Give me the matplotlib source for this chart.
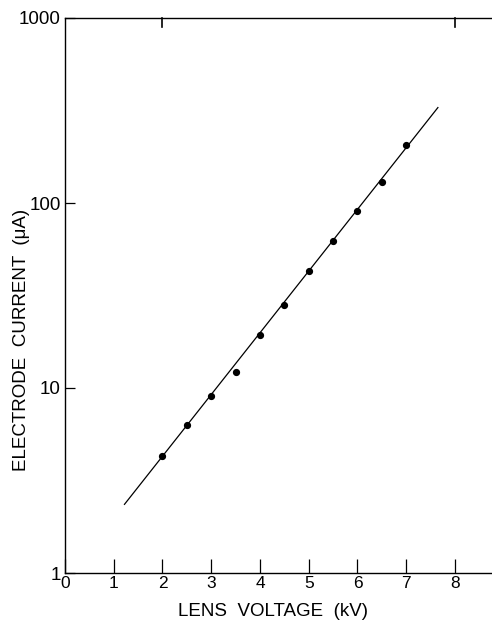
import matplotlib
matplotlib.use("Agg")
import matplotlib.pyplot as plt

# measured points (kV, uA)
voltage = [2.0, 2.5, 3.0, 3.5, 4.0, 4.5, 5.0, 5.5, 6.0, 6.5, 7.0]
current = [4.3, 6.3, 9.1, 12.2, 19.3, 28.1, 42.9, 62.3, 90.5, 130, 206]

# drawn straight-line fit (end points)
fit_voltage = [1.22, 7.65]
fit_current = [2.35, 328]

x_ticks = [0, 1, 2, 3, 4, 5, 6, 7, 8]
y_ticks = [1, 10, 100, 1000]
y_labels = ["1", "10", "100", "1000"]

plt.rcParams['font.family'] = ['Liberation Sans', 'DejaVu Sans']

fig = plt.figure(figsize=(4.92, 6.2), dpi=100)
ax = fig.add_axes((65 / 492, 47 / 620, 1 - 65 / 492, 555 / 620))

ax.plot(fit_voltage, fit_current, color='black', lw=0.9)
ax.plot(voltage, current, 'o', color='black', ms=4.2)

ax.set_yscale('log')
ax.set_xlim(0, 8.76)
ax.set_ylim(1, 1000)

ax.set_xticks(x_ticks)
ax.set_xticklabels([str(t) for t in x_ticks], fontsize=12.5)
ax.set_yticks(y_ticks)
ax.set_yticklabels(y_labels, fontsize=13.5)
ax.minorticks_off()
ax.tick_params(axis='x', direction='in', length=10, width=0.9, pad=2)
ax.tick_params(axis='y', direction='in', length=7, width=0.9, pad=3)

# two short ticks on the top edge
for xv in (2, 8):
    ax.plot([xv, xv], [1000, 1000 / 10 ** (9 / 185)], color='black', lw=1.2, clip_on=False)

ax.spines['right'].set_visible(False)
for s in ('left', 'bottom', 'top'):
    ax.spines[s].set_linewidth(1.0)

fig.text(273 / 492, 1 - 611 / 620, 'LENS  VOLTAGE  (kV)', fontsize=13.5,
         ha='center', va='center')
fig.text(22 / 492, 1 - 340 / 620, 'ELECTRODE  CURRENT  (μA)', fontsize=13.5,
         ha='center', va='center', rotation=90)

fig.savefig('out.png', dpi=100)
